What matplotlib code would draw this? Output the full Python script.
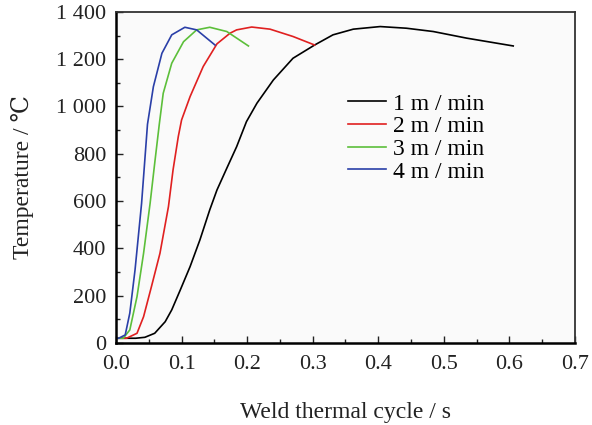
import matplotlib.pyplot as plt
from matplotlib.ticker import MultipleLocator, FuncFormatter

plt.rcParams['font.family'] = ['Liberation Serif', 'DejaVu Serif', 'Noto Sans CJK SC']

# 1 m/min
t1 = [0.0, 0.03, 0.044, 0.059, 0.075, 0.085, 0.098, 0.113, 0.128, 0.143, 0.154, 0.169,
      0.184, 0.199, 0.215, 0.24, 0.27, 0.303, 0.331, 0.362, 0.403, 0.443, 0.484, 0.535, 0.606]
T1 = [20, 20, 24, 41, 90, 140, 224, 323, 436, 563, 647, 739,
      830, 936, 1014, 1112, 1204, 1260, 1303, 1327, 1338, 1331, 1317, 1289, 1256]
# 2 m/min
t2 = [0.0, 0.016, 0.032, 0.042, 0.054, 0.067, 0.08, 0.087, 0.095, 0.1, 0.113, 0.133,
      0.154, 0.174, 0.184, 0.207, 0.235, 0.27, 0.303]
T2 = [20, 20, 41, 111, 238, 379, 577, 732, 873, 943, 1042, 1169,
      1265, 1310, 1324, 1336, 1327, 1296, 1260]
# 3 m/min
t3 = [0.0, 0.011, 0.021, 0.032, 0.042, 0.052, 0.059, 0.066, 0.072, 0.085, 0.103, 0.123,
      0.143, 0.169, 0.202]
T3 = [20, 20, 55, 196, 379, 591, 760, 925, 1056, 1183, 1274, 1324,
      1335, 1317, 1256]
# 4 m/min
t4 = [0.0, 0.004, 0.014, 0.021, 0.029, 0.039, 0.048, 0.057, 0.07, 0.085, 0.105, 0.123, 0.151]
T4 = [20, 20, 34, 126, 309, 591, 925, 1084, 1225, 1303, 1335, 1324, 1260]

labels = ['1 m / min', '2 m / min', '3 m / min', '4 m / min']
colors = ['#000000', '#e02020', '#5cbf3a', '#2a3fa8']

fig = plt.figure(figsize=(5.92, 4.25), dpi=100)
ax = fig.add_axes([0.196, 0.193, 0.775, 0.779])
ax.set_facecolor('#fafafa')

for t, T, lab, c in zip([t1, t2, t3, t4], [T1, T2, T3, T4], labels, colors):
    ax.plot(t, T, color=c, lw=1.2, label=lab)

ax.set_xlim(0, 0.7)
ax.set_ylim(0, 1400)
ax.xaxis.set_major_locator(MultipleLocator(0.1))
ax.xaxis.set_minor_locator(MultipleLocator(0.05))
ax.yaxis.set_major_locator(MultipleLocator(200))
ax.yaxis.set_minor_locator(MultipleLocator(100))
ax.xaxis.set_major_formatter(FuncFormatter(lambda v, p: '%.1f' % v))
ax.yaxis.set_major_formatter(FuncFormatter(lambda v, p: '{:,.0f}'.format(v).replace(',', ' ')))
ax.tick_params(which='both', direction='in', labelsize=16, colors='#222222')
ax.tick_params(axis='x', pad=9)
ax.tick_params(axis='y', pad=7)
ax.tick_params(which='major', length=5, width=1)
ax.tick_params(which='minor', length=3, width=1)

for s in ['left', 'bottom']:
    ax.spines[s].set_linewidth(1.8)
for s in ['top', 'right']:
    ax.spines[s].set_linewidth(1.3)
    ax.spines[s].set_color('#333333')

ax.set_xlabel('Weld thermal cycle / s', fontsize=17, labelpad=20, color='#222222')
ax.set_ylabel('Temperature / ℃', fontsize=17, labelpad=16, color='#222222')

ax.legend(loc='upper left', bbox_to_anchor=(0.505, 0.755), frameon=False, fontsize=17,
          handlelength=1.6, handletextpad=0.3, labelspacing=0.05, borderpad=0,
          borderaxespad=0)

plt.savefig('out.png', dpi=100)
